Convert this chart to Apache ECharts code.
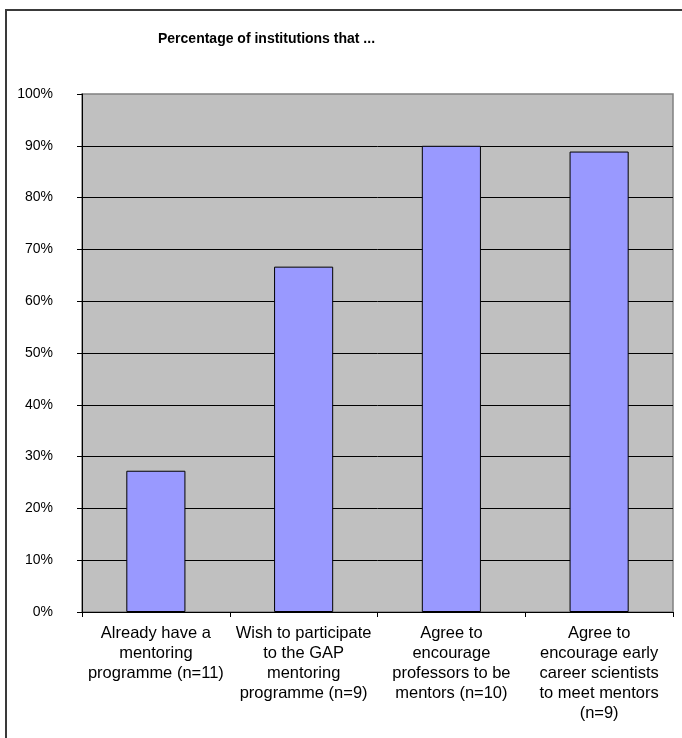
<!DOCTYPE html>
<html>
<head>
<meta charset="utf-8">
<script src="https://cdn.jsdelivr.net/npm/echarts@6/dist/echarts.min.js"></script>
<style>
  html, body { margin: 0; padding: 0; background: #fff; }
  #chart { width: 682px; height: 738px; }
</style>
</head>
<body>
<div id="chart"></div>
<script>
// Survey questions (line breaks as printed under each bar)
const categories = [
  'Already have a\nmentoring\nprogramme (n=11)',
  'Wish to participate\nto the GAP\nmentoring\nprogramme (n=9)',
  'Agree to\nencourage\nprofessors to be\nmentors (n=10)',
  'Agree to\nencourage early\ncareer scientists\nto meet mentors\n(n=9)'
];
// Share of institutions answering yes, in percent
const percentages = [27.27, 66.67, 90, 88.89];
const titleText = 'Percentage of institutions that ...';

const FONT = 'Arial, "Liberation Sans", sans-serif';
const chart = echarts.init(document.getElementById('chart'), null, { renderer: 'canvas' });

chart.setOption({
  backgroundColor: '#ffffff',
  animation: false,
  title: {
    text: titleText,
    left: 158,
    top: 32,
    padding: 0,
    textStyle: { fontFamily: FONT, fontSize: 14, fontWeight: 'bold', color: '#000' }
  },
  graphic: [{
    type: 'rect',
    z: -1,
    shape: { x: 6, y: 10, width: 700, height: 760 },
    style: { fill: 'none', stroke: '#3a3a3a', lineWidth: 2 }
  }],
  grid: {
    left: 82, right: 9, top: 94, bottom: 126,
    show: true,
    backgroundColor: '#C0C0C0',
    borderColor: '#808080',
    borderWidth: 1.5,
    containLabel: false
  },
  xAxis: {
    type: 'category',
    data: categories,
    boundaryGap: true,
    axisLine: { show: true, lineStyle: { color: '#000', width: 1 } },
    axisTick: { show: true, length: 5, inside: false, alignWithLabel: false, lineStyle: { color: '#000' } },
    axisLabel: {
      interval: 0,
      margin: 11,
      fontFamily: FONT,
      fontSize: 16.5,
      lineHeight: 20,
      color: '#000',
      align: 'center'
    },
    splitLine: { show: false }
  },
  yAxis: {
    type: 'value',
    min: 0,
    max: 100,
    interval: 10,
    axisLine: { show: true, lineStyle: { color: '#000', width: 1 } },
    axisTick: { show: true, length: 5, inside: false, lineStyle: { color: '#000' } },
    axisLabel: {
      formatter: '{value}%',
      margin: 29,
      fontFamily: FONT,
      fontSize: 14,
      color: '#000'
    },
    splitLine: { show: true, showMaxLine: false, lineStyle: { color: '#000', width: 1 } }
  },
  series: [{
    type: 'bar',
    data: percentages,
    barCategoryGap: '60%',
    itemStyle: { color: '#9999FF', borderColor: '#000', borderWidth: 1 }
  }]
});
</script>
</body>
</html>
